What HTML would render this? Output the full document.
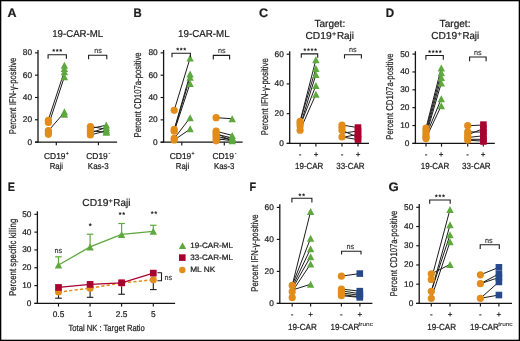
<!DOCTYPE html>
<html><head><meta charset="utf-8"><style>
html,body{margin:0;padding:0;background:#fff;}
body{width:520px;height:341px;overflow:hidden;}
svg{display:block;font-family:"Liberation Sans", sans-serif;text-rendering:geometricPrecision;will-change:transform;filter:blur(0.3px);}
text{stroke:#1c1c1c;stroke-width:0.22px;}
text.ns{stroke-width:0.1px;}
</style></head><body>
<svg width="520" height="341" viewBox="0 0 520 341">
<rect x="0" y="0" width="520" height="341" fill="#fff"/>
<text x="7.40" y="16.80" font-size="12.3" fill="#1c1c1c" font-weight="bold" textLength="9.00" lengthAdjust="spacingAndGlyphs">A</text>
<text x="77.70" y="37.10" font-size="10.0" fill="#1c1c1c" text-anchor="middle" textLength="51.00" lengthAdjust="spacingAndGlyphs">19-CAR-ML</text>
<text transform="translate(16.00,134.20) rotate(-90)" x="0" y="0" font-size="9.8" fill="#1c1c1c" textLength="76.60" lengthAdjust="spacingAndGlyphs">Percent IFN-γ-positive</text>
<line x1="38.00" y1="50.00" x2="38.00" y2="142.75" stroke="#151515" stroke-width="1.3"/>
<line x1="35.00" y1="142.10" x2="117.10" y2="142.10" stroke="#151515" stroke-width="1.3"/>
<line x1="35.00" y1="142.10" x2="38.00" y2="142.10" stroke="#151515" stroke-width="1.15"/>
<text x="32.05" y="144.60" font-size="8.3" fill="#1c1c1c" text-anchor="end">0</text>
<line x1="35.00" y1="119.79" x2="38.00" y2="119.79" stroke="#151515" stroke-width="1.15"/>
<text x="32.05" y="122.29" font-size="8.3" fill="#1c1c1c" text-anchor="end">20</text>
<line x1="35.00" y1="97.48" x2="38.00" y2="97.48" stroke="#151515" stroke-width="1.15"/>
<text x="32.05" y="99.98" font-size="8.3" fill="#1c1c1c" text-anchor="end">40</text>
<line x1="35.00" y1="75.16" x2="38.00" y2="75.16" stroke="#151515" stroke-width="1.15"/>
<text x="32.05" y="77.66" font-size="8.3" fill="#1c1c1c" text-anchor="end">60</text>
<line x1="35.00" y1="52.85" x2="38.00" y2="52.85" stroke="#151515" stroke-width="1.15"/>
<text x="32.05" y="55.35" font-size="8.3" fill="#1c1c1c" text-anchor="end">80</text>
<line x1="56.30" y1="142.10" x2="56.30" y2="145.30" stroke="#151515" stroke-width="1.15"/>
<line x1="98.40" y1="142.10" x2="98.40" y2="145.30" stroke="#151515" stroke-width="1.15"/>
<line x1="48.40" y1="119.65" x2="64.40" y2="71.26" stroke="#1c1c1c" stroke-width="1.0"/>
<line x1="48.40" y1="125.21" x2="64.40" y2="76.82" stroke="#1c1c1c" stroke-width="1.0"/>
<line x1="48.40" y1="130.78" x2="64.40" y2="112.42" stroke="#1c1c1c" stroke-width="1.0"/>
<circle cx="48.40" cy="120.32" r="3.6" fill="#e28c1a"/>
<circle cx="48.40" cy="122.43" r="3.6" fill="#e28c1a"/>
<circle cx="48.40" cy="130.55" r="3.6" fill="#e28c1a"/>
<circle cx="48.40" cy="132.44" r="3.6" fill="#e28c1a"/>
<circle cx="48.40" cy="134.34" r="3.6" fill="#e28c1a"/>
<path d="M64.40,61.64 L68.10,68.64 L60.70,68.64 Z" fill="#5ea83e"/>
<path d="M64.40,64.98 L68.10,71.98 L60.70,71.98 Z" fill="#5ea83e"/>
<path d="M64.40,68.31 L68.10,75.31 L60.70,75.31 Z" fill="#5ea83e"/>
<path d="M64.40,73.32 L68.10,80.32 L60.70,80.32 Z" fill="#5ea83e"/>
<path d="M64.40,108.36 L68.10,115.36 L60.70,115.36 Z" fill="#5ea83e"/>
<path d="M64.40,110.81 L68.10,117.81 L60.70,117.81 Z" fill="#5ea83e"/>
<line x1="90.40" y1="126.55" x2="106.30" y2="129.11" stroke="#1c1c1c" stroke-width="1.0"/>
<line x1="90.40" y1="128.55" x2="106.30" y2="125.21" stroke="#1c1c1c" stroke-width="1.0"/>
<line x1="90.40" y1="130.78" x2="106.30" y2="132.33" stroke="#1c1c1c" stroke-width="1.0"/>
<line x1="90.40" y1="133.00" x2="106.30" y2="127.44" stroke="#1c1c1c" stroke-width="1.0"/>
<line x1="90.40" y1="135.00" x2="106.30" y2="130.78" stroke="#1c1c1c" stroke-width="1.0"/>
<circle cx="90.40" cy="126.55" r="3.6" fill="#e28c1a"/>
<circle cx="90.40" cy="129.11" r="3.6" fill="#e28c1a"/>
<circle cx="90.40" cy="131.33" r="3.6" fill="#e28c1a"/>
<circle cx="90.40" cy="133.56" r="3.6" fill="#e28c1a"/>
<circle cx="90.40" cy="135.00" r="3.6" fill="#e28c1a"/>
<path d="M106.30,121.49 L110.00,128.49 L102.60,128.49 Z" fill="#5ea83e"/>
<path d="M106.30,123.94 L110.00,130.94 L102.60,130.94 Z" fill="#5ea83e"/>
<path d="M106.30,126.16 L110.00,133.16 L102.60,133.16 Z" fill="#5ea83e"/>
<path d="M106.30,127.83 L110.00,134.83 L102.60,134.83 Z" fill="#5ea83e"/>
<path d="M106.30,128.83 L110.00,135.83 L102.60,135.83 Z" fill="#5ea83e"/>
<path d="M48.10,58.80 L48.10,54.80 L66.40,54.80 L66.40,58.80" fill="none" stroke="#1c1c1c" stroke-width="1.1"/>
<polygon points="53.70,48.95 54.08,49.87 55.08,49.95 54.32,50.60 54.55,51.57 53.70,51.05 52.85,51.57 53.08,50.60 52.32,49.95 53.32,49.87" fill="#1c1c1c" stroke="#1c1c1c" stroke-width="0.3" stroke-linejoin="round"/>
<polygon points="57.20,48.95 57.58,49.87 58.58,49.95 57.82,50.60 58.05,51.57 57.20,51.05 56.35,51.57 56.58,50.60 55.82,49.95 56.82,49.87" fill="#1c1c1c" stroke="#1c1c1c" stroke-width="0.3" stroke-linejoin="round"/>
<polygon points="60.70,48.95 61.08,49.87 62.08,49.95 61.32,50.60 61.55,51.57 60.70,51.05 59.85,51.57 60.08,50.60 59.32,49.95 60.32,49.87" fill="#1c1c1c" stroke="#1c1c1c" stroke-width="0.3" stroke-linejoin="round"/>
<path d="M88.60,59.20 L88.60,55.20 L106.80,55.20 L106.80,59.20" fill="none" stroke="#1c1c1c" stroke-width="1.1"/>
<text x="98.00" y="52.80" font-size="7.6" fill="#1c1c1c" text-anchor="middle" textLength="7.60" lengthAdjust="spacingAndGlyphs" class="ns">ns</text>
<text x="54.80" y="159.10" font-size="8.6" fill="#1c1c1c" text-anchor="middle" textLength="21.50" lengthAdjust="spacingAndGlyphs">CD19</text>
<text x="65.80" y="155.40" font-size="5.4" fill="#555" textLength="3.00" lengthAdjust="spacingAndGlyphs">+</text>
<text x="56.40" y="168.80" font-size="8.6" fill="#1c1c1c" text-anchor="middle" textLength="13.30" lengthAdjust="spacingAndGlyphs">Raji</text>
<text x="97.00" y="159.10" font-size="8.6" fill="#1c1c1c" text-anchor="middle" textLength="21.50" lengthAdjust="spacingAndGlyphs">CD19</text>
<text x="108.50" y="155.40" font-size="6.0" fill="#777" textLength="1.80" lengthAdjust="spacingAndGlyphs" class="ns">-</text>
<text x="98.20" y="168.80" font-size="8.6" fill="#1c1c1c" text-anchor="middle" textLength="20.70" lengthAdjust="spacingAndGlyphs">Kas-3</text>
<text x="133.40" y="16.80" font-size="12.3" fill="#1c1c1c" font-weight="bold" textLength="8.20" lengthAdjust="spacingAndGlyphs">B</text>
<text x="203.85" y="37.10" font-size="10.0" fill="#1c1c1c" text-anchor="middle" textLength="51.50" lengthAdjust="spacingAndGlyphs">19-CAR-ML</text>
<text transform="translate(141.30,137.40) rotate(-90)" x="0" y="0" font-size="9.8" fill="#1c1c1c" textLength="85.00" lengthAdjust="spacingAndGlyphs">Percent CD107a-positive</text>
<line x1="163.60" y1="50.00" x2="163.60" y2="142.85" stroke="#151515" stroke-width="1.3"/>
<line x1="160.60" y1="142.20" x2="242.60" y2="142.20" stroke="#151515" stroke-width="1.3"/>
<line x1="160.60" y1="142.20" x2="163.60" y2="142.20" stroke="#151515" stroke-width="1.15"/>
<text x="157.65" y="144.70" font-size="8.3" fill="#1c1c1c" text-anchor="end">0</text>
<line x1="160.60" y1="119.86" x2="163.60" y2="119.86" stroke="#151515" stroke-width="1.15"/>
<text x="157.65" y="122.36" font-size="8.3" fill="#1c1c1c" text-anchor="end">20</text>
<line x1="160.60" y1="97.52" x2="163.60" y2="97.52" stroke="#151515" stroke-width="1.15"/>
<text x="157.65" y="100.02" font-size="8.3" fill="#1c1c1c" text-anchor="end">40</text>
<line x1="160.60" y1="75.19" x2="163.60" y2="75.19" stroke="#151515" stroke-width="1.15"/>
<text x="157.65" y="77.69" font-size="8.3" fill="#1c1c1c" text-anchor="end">60</text>
<line x1="160.60" y1="52.85" x2="163.60" y2="52.85" stroke="#151515" stroke-width="1.15"/>
<text x="157.65" y="55.35" font-size="8.3" fill="#1c1c1c" text-anchor="end">80</text>
<line x1="181.80" y1="142.20" x2="181.80" y2="145.40" stroke="#151515" stroke-width="1.15"/>
<line x1="224.30" y1="142.20" x2="224.30" y2="145.40" stroke="#151515" stroke-width="1.15"/>
<line x1="174.20" y1="110.31" x2="190.10" y2="58.02" stroke="#1c1c1c" stroke-width="1.0"/>
<line x1="174.20" y1="129.66" x2="190.10" y2="74.04" stroke="#1c1c1c" stroke-width="1.0"/>
<line x1="174.20" y1="130.22" x2="190.10" y2="77.38" stroke="#1c1c1c" stroke-width="1.0"/>
<line x1="174.20" y1="131.33" x2="190.10" y2="83.49" stroke="#1c1c1c" stroke-width="1.0"/>
<line x1="174.20" y1="138.56" x2="190.10" y2="117.76" stroke="#1c1c1c" stroke-width="1.0"/>
<line x1="174.20" y1="140.01" x2="190.10" y2="129.11" stroke="#1c1c1c" stroke-width="1.0"/>
<circle cx="174.20" cy="110.31" r="3.6" fill="#e28c1a"/>
<circle cx="174.20" cy="129.44" r="3.6" fill="#e28c1a"/>
<circle cx="174.20" cy="131.22" r="3.6" fill="#e28c1a"/>
<circle cx="174.20" cy="138.34" r="3.6" fill="#e28c1a"/>
<circle cx="174.20" cy="140.01" r="3.6" fill="#e28c1a"/>
<path d="M190.10,54.52 L193.80,61.52 L186.40,61.52 Z" fill="#5ea83e"/>
<path d="M190.10,70.54 L193.80,77.54 L186.40,77.54 Z" fill="#5ea83e"/>
<path d="M190.10,73.65 L193.80,80.65 L186.40,80.65 Z" fill="#5ea83e"/>
<path d="M190.10,79.99 L193.80,86.99 L186.40,86.99 Z" fill="#5ea83e"/>
<path d="M190.10,114.26 L193.80,121.26 L186.40,121.26 Z" fill="#5ea83e"/>
<path d="M190.10,125.27 L193.80,132.27 L186.40,132.27 Z" fill="#5ea83e"/>
<line x1="216.10" y1="117.65" x2="232.20" y2="118.76" stroke="#1c1c1c" stroke-width="1.0"/>
<line x1="216.10" y1="131.22" x2="232.20" y2="135.45" stroke="#1c1c1c" stroke-width="1.0"/>
<line x1="216.10" y1="134.11" x2="232.20" y2="138.01" stroke="#1c1c1c" stroke-width="1.0"/>
<line x1="216.10" y1="136.34" x2="232.20" y2="139.68" stroke="#1c1c1c" stroke-width="1.0"/>
<line x1="216.10" y1="138.56" x2="232.20" y2="140.79" stroke="#1c1c1c" stroke-width="1.0"/>
<line x1="216.10" y1="140.79" x2="232.20" y2="136.89" stroke="#1c1c1c" stroke-width="1.0"/>
<line x1="216.10" y1="133.00" x2="232.20" y2="141.34" stroke="#1c1c1c" stroke-width="1.0"/>
<circle cx="216.10" cy="117.65" r="3.6" fill="#e28c1a"/>
<circle cx="216.10" cy="131.22" r="3.6" fill="#e28c1a"/>
<circle cx="216.10" cy="133.56" r="3.6" fill="#e28c1a"/>
<circle cx="216.10" cy="135.78" r="3.6" fill="#e28c1a"/>
<circle cx="216.10" cy="138.01" r="3.6" fill="#e28c1a"/>
<circle cx="216.10" cy="140.79" r="3.6" fill="#e28c1a"/>
<path d="M232.20,115.26 L235.90,122.26 L228.50,122.26 Z" fill="#5ea83e"/>
<path d="M232.20,131.95 L235.90,138.95 L228.50,138.95 Z" fill="#5ea83e"/>
<path d="M232.20,133.95 L235.90,140.95 L228.50,140.95 Z" fill="#5ea83e"/>
<path d="M232.20,135.62 L235.90,142.62 L228.50,142.62 Z" fill="#5ea83e"/>
<path d="M232.20,137.29 L235.90,144.29 L228.50,144.29 Z" fill="#5ea83e"/>
<path d="M172.00,57.30 L172.00,53.20 L190.40,53.20 L190.40,57.30" fill="none" stroke="#1c1c1c" stroke-width="1.1"/>
<polygon points="177.70,47.65 178.08,48.57 179.08,48.65 178.32,49.30 178.55,50.27 177.70,49.75 176.85,50.27 177.08,49.30 176.32,48.65 177.32,48.57" fill="#1c1c1c" stroke="#1c1c1c" stroke-width="0.3" stroke-linejoin="round"/>
<polygon points="181.20,47.65 181.58,48.57 182.58,48.65 181.82,49.30 182.05,50.27 181.20,49.75 180.35,50.27 180.58,49.30 179.82,48.65 180.82,48.57" fill="#1c1c1c" stroke="#1c1c1c" stroke-width="0.3" stroke-linejoin="round"/>
<polygon points="184.70,47.65 185.08,48.57 186.08,48.65 185.32,49.30 185.55,50.27 184.70,49.75 183.85,50.27 184.08,49.30 183.32,48.65 184.32,48.57" fill="#1c1c1c" stroke="#1c1c1c" stroke-width="0.3" stroke-linejoin="round"/>
<path d="M213.30,59.60 L213.30,55.40 L229.60,55.40 L229.60,59.60" fill="none" stroke="#1c1c1c" stroke-width="1.1"/>
<text x="221.70" y="53.40" font-size="7.6" fill="#1c1c1c" text-anchor="middle" textLength="7.60" lengthAdjust="spacingAndGlyphs" class="ns">ns</text>
<text x="180.50" y="159.10" font-size="8.6" fill="#1c1c1c" text-anchor="middle" textLength="21.60" lengthAdjust="spacingAndGlyphs">CD19</text>
<text x="191.50" y="155.40" font-size="5.4" fill="#555" textLength="3.00" lengthAdjust="spacingAndGlyphs">+</text>
<text x="182.50" y="168.80" font-size="8.6" fill="#1c1c1c" text-anchor="middle" textLength="13.30" lengthAdjust="spacingAndGlyphs">Raji</text>
<text x="223.20" y="159.10" font-size="8.6" fill="#1c1c1c" text-anchor="middle" textLength="21.60" lengthAdjust="spacingAndGlyphs">CD19</text>
<text x="234.70" y="155.40" font-size="6.0" fill="#777" textLength="1.80" lengthAdjust="spacingAndGlyphs" class="ns">-</text>
<text x="224.20" y="168.80" font-size="8.6" fill="#1c1c1c" text-anchor="middle" textLength="20.50" lengthAdjust="spacingAndGlyphs">Kas-3</text>
<text x="259.10" y="16.80" font-size="12.3" fill="#1c1c1c" font-weight="bold" textLength="9.20" lengthAdjust="spacingAndGlyphs">C</text>
<text x="329.80" y="26.60" font-size="10.2" fill="#1c1c1c" text-anchor="middle" textLength="30.80" lengthAdjust="spacingAndGlyphs">Target:</text>
<text x="305.40" y="38.60" font-size="10.1" fill="#1c1c1c" textLength="26.20" lengthAdjust="spacingAndGlyphs">CD19</text>
<text x="332.00" y="35.50" font-size="6.5" fill="#444" textLength="4.30" lengthAdjust="spacingAndGlyphs">+</text>
<text x="336.90" y="38.60" font-size="10.1" fill="#1c1c1c" textLength="17.10" lengthAdjust="spacingAndGlyphs">Raji</text>
<text transform="translate(268.00,135.20) rotate(-90)" x="0" y="0" font-size="9.8" fill="#1c1c1c" textLength="77.00" lengthAdjust="spacingAndGlyphs">Percent IFN-γ-positive</text>
<line x1="289.70" y1="51.20" x2="289.70" y2="144.05" stroke="#151515" stroke-width="1.3"/>
<line x1="286.70" y1="143.40" x2="369.00" y2="143.40" stroke="#151515" stroke-width="1.3"/>
<line x1="286.70" y1="143.40" x2="289.70" y2="143.40" stroke="#151515" stroke-width="1.15"/>
<text x="283.75" y="145.90" font-size="8.3" fill="#1c1c1c" text-anchor="end">0</text>
<line x1="286.70" y1="113.66" x2="289.70" y2="113.66" stroke="#151515" stroke-width="1.15"/>
<text x="283.75" y="116.16" font-size="8.3" fill="#1c1c1c" text-anchor="end">20</text>
<line x1="286.70" y1="83.92" x2="289.70" y2="83.92" stroke="#151515" stroke-width="1.15"/>
<text x="283.75" y="86.42" font-size="8.3" fill="#1c1c1c" text-anchor="end">40</text>
<line x1="286.70" y1="54.18" x2="289.70" y2="54.18" stroke="#151515" stroke-width="1.15"/>
<text x="283.75" y="56.68" font-size="8.3" fill="#1c1c1c" text-anchor="end">60</text>
<line x1="300.10" y1="143.40" x2="300.10" y2="146.60" stroke="#151515" stroke-width="1.15"/>
<line x1="315.90" y1="143.40" x2="315.90" y2="146.60" stroke="#151515" stroke-width="1.15"/>
<line x1="342.00" y1="143.40" x2="342.00" y2="146.60" stroke="#151515" stroke-width="1.15"/>
<line x1="358.00" y1="143.40" x2="358.00" y2="146.60" stroke="#151515" stroke-width="1.15"/>
<line x1="300.10" y1="121.34" x2="315.90" y2="59.63" stroke="#1c1c1c" stroke-width="1.0"/>
<line x1="300.10" y1="121.34" x2="315.90" y2="68.55" stroke="#1c1c1c" stroke-width="1.0"/>
<line x1="300.10" y1="125.95" x2="315.90" y2="74.50" stroke="#1c1c1c" stroke-width="1.0"/>
<line x1="300.10" y1="125.95" x2="315.90" y2="85.50" stroke="#1c1c1c" stroke-width="1.0"/>
<line x1="300.10" y1="130.26" x2="315.90" y2="94.28" stroke="#1c1c1c" stroke-width="1.0"/>
<circle cx="300.10" cy="121.34" r="3.6" fill="#e28c1a"/>
<circle cx="300.10" cy="123.57" r="3.6" fill="#e28c1a"/>
<circle cx="300.10" cy="125.95" r="3.6" fill="#e28c1a"/>
<circle cx="300.10" cy="130.26" r="3.6" fill="#e28c1a"/>
<path d="M315.90,56.13 L319.60,63.13 L312.20,63.13 Z" fill="#5ea83e"/>
<path d="M315.90,65.05 L319.60,72.05 L312.20,72.05 Z" fill="#5ea83e"/>
<path d="M315.90,71.00 L319.60,78.00 L312.20,78.00 Z" fill="#5ea83e"/>
<path d="M315.90,82.00 L319.60,89.00 L312.20,89.00 Z" fill="#5ea83e"/>
<path d="M315.90,90.78 L319.60,97.78 L312.20,97.78 Z" fill="#5ea83e"/>
<line x1="342.00" y1="125.06" x2="358.00" y2="127.58" stroke="#1c1c1c" stroke-width="1.0"/>
<line x1="342.00" y1="130.26" x2="358.00" y2="137.55" stroke="#1c1c1c" stroke-width="1.0"/>
<line x1="342.00" y1="133.23" x2="358.00" y2="131.00" stroke="#1c1c1c" stroke-width="1.0"/>
<line x1="342.00" y1="136.95" x2="358.00" y2="139.63" stroke="#1c1c1c" stroke-width="1.0"/>
<line x1="342.00" y1="137.55" x2="358.00" y2="134.28" stroke="#1c1c1c" stroke-width="1.0"/>
<circle cx="342.00" cy="125.06" r="3.6" fill="#e28c1a"/>
<circle cx="342.00" cy="127.29" r="3.6" fill="#e28c1a"/>
<circle cx="342.00" cy="130.26" r="3.6" fill="#e28c1a"/>
<circle cx="342.00" cy="136.95" r="3.6" fill="#e28c1a"/>
<rect x="354.70" y="124.28" width="6.6" height="6.6" fill="#a8002f"/>
<rect x="354.70" y="127.70" width="6.6" height="6.6" fill="#a8002f"/>
<rect x="354.70" y="130.98" width="6.6" height="6.6" fill="#a8002f"/>
<rect x="354.70" y="134.25" width="6.6" height="6.6" fill="#a8002f"/>
<rect x="354.70" y="136.33" width="6.6" height="6.6" fill="#a8002f"/>
<path d="M301.30,57.80 L301.30,53.90 L317.70,53.90 L317.70,57.80" fill="none" stroke="#1c1c1c" stroke-width="1.1"/>
<polygon points="304.90,48.25 305.28,49.17 306.28,49.25 305.52,49.90 305.75,50.87 304.90,50.35 304.05,50.87 304.28,49.90 303.52,49.25 304.52,49.17" fill="#1c1c1c" stroke="#1c1c1c" stroke-width="0.3" stroke-linejoin="round"/>
<polygon points="308.45,48.25 308.83,49.17 309.83,49.25 309.07,49.90 309.30,50.87 308.45,50.35 307.60,50.87 307.83,49.90 307.07,49.25 308.07,49.17" fill="#1c1c1c" stroke="#1c1c1c" stroke-width="0.3" stroke-linejoin="round"/>
<polygon points="312.00,48.25 312.38,49.17 313.38,49.25 312.62,49.90 312.85,50.87 312.00,50.35 311.15,50.87 311.38,49.90 310.62,49.25 311.62,49.17" fill="#1c1c1c" stroke="#1c1c1c" stroke-width="0.3" stroke-linejoin="round"/>
<polygon points="315.55,48.25 315.93,49.17 316.93,49.25 316.17,49.90 316.40,50.87 315.55,50.35 314.70,50.87 314.93,49.90 314.17,49.25 315.17,49.17" fill="#1c1c1c" stroke="#1c1c1c" stroke-width="0.3" stroke-linejoin="round"/>
<path d="M344.50,58.60 L344.50,54.70 L361.40,54.70 L361.40,58.60" fill="none" stroke="#1c1c1c" stroke-width="1.1"/>
<text x="352.80" y="52.30" font-size="7.6" fill="#1c1c1c" text-anchor="middle" textLength="7.60" lengthAdjust="spacingAndGlyphs" class="ns">ns</text>
<text x="300.10" y="157.20" font-size="8.0" fill="#1c1c1c" text-anchor="middle">-</text>
<text x="316.10" y="157.20" font-size="8.0" fill="#1c1c1c" text-anchor="middle">+</text>
<text x="342.00" y="157.20" font-size="8.0" fill="#1c1c1c" text-anchor="middle">-</text>
<text x="358.10" y="157.20" font-size="8.0" fill="#1c1c1c" text-anchor="middle">+</text>
<text x="309.20" y="169.30" font-size="8.8" fill="#1c1c1c" text-anchor="middle" textLength="28.30" lengthAdjust="spacingAndGlyphs">19-CAR</text>
<text x="350.40" y="169.30" font-size="8.8" fill="#1c1c1c" text-anchor="middle" textLength="28.40" lengthAdjust="spacingAndGlyphs">33-CAR</text>
<text x="385.70" y="16.80" font-size="12.3" fill="#1c1c1c" font-weight="bold" textLength="8.40" lengthAdjust="spacingAndGlyphs">D</text>
<text x="455.05" y="26.60" font-size="10.2" fill="#1c1c1c" text-anchor="middle" textLength="30.90" lengthAdjust="spacingAndGlyphs">Target:</text>
<text x="431.20" y="38.60" font-size="10.1" fill="#1c1c1c" textLength="26.00" lengthAdjust="spacingAndGlyphs">CD19</text>
<text x="457.60" y="35.50" font-size="6.5" fill="#444" textLength="4.30" lengthAdjust="spacingAndGlyphs">+</text>
<text x="462.40" y="38.60" font-size="10.1" fill="#1c1c1c" textLength="16.70" lengthAdjust="spacingAndGlyphs">Raji</text>
<text transform="translate(393.00,139.70) rotate(-90)" x="0" y="0" font-size="9.8" fill="#1c1c1c" textLength="86.40" lengthAdjust="spacingAndGlyphs">Percent CD107a-positive</text>
<line x1="415.40" y1="51.20" x2="415.40" y2="144.05" stroke="#151515" stroke-width="1.3"/>
<line x1="412.40" y1="143.40" x2="494.80" y2="143.40" stroke="#151515" stroke-width="1.3"/>
<line x1="412.40" y1="143.40" x2="415.40" y2="143.40" stroke="#151515" stroke-width="1.15"/>
<text x="409.45" y="145.90" font-size="8.3" fill="#1c1c1c" text-anchor="end">0</text>
<line x1="412.40" y1="125.54" x2="415.40" y2="125.54" stroke="#151515" stroke-width="1.15"/>
<text x="409.45" y="128.04" font-size="8.3" fill="#1c1c1c" text-anchor="end">10</text>
<line x1="412.40" y1="107.68" x2="415.40" y2="107.68" stroke="#151515" stroke-width="1.15"/>
<text x="409.45" y="110.18" font-size="8.3" fill="#1c1c1c" text-anchor="end">20</text>
<line x1="412.40" y1="89.82" x2="415.40" y2="89.82" stroke="#151515" stroke-width="1.15"/>
<text x="409.45" y="92.32" font-size="8.3" fill="#1c1c1c" text-anchor="end">30</text>
<line x1="412.40" y1="71.96" x2="415.40" y2="71.96" stroke="#151515" stroke-width="1.15"/>
<text x="409.45" y="74.46" font-size="8.3" fill="#1c1c1c" text-anchor="end">40</text>
<line x1="412.40" y1="54.10" x2="415.40" y2="54.10" stroke="#151515" stroke-width="1.15"/>
<text x="409.45" y="56.60" font-size="8.3" fill="#1c1c1c" text-anchor="end">50</text>
<line x1="426.00" y1="143.40" x2="426.00" y2="146.60" stroke="#151515" stroke-width="1.15"/>
<line x1="441.50" y1="143.40" x2="441.50" y2="146.60" stroke="#151515" stroke-width="1.15"/>
<line x1="467.70" y1="143.40" x2="467.70" y2="146.60" stroke="#151515" stroke-width="1.15"/>
<line x1="483.30" y1="143.40" x2="483.30" y2="146.60" stroke="#151515" stroke-width="1.15"/>
<line x1="426.00" y1="128.04" x2="441.30" y2="67.90" stroke="#1c1c1c" stroke-width="1.0"/>
<line x1="426.00" y1="130.37" x2="441.30" y2="72.73" stroke="#1c1c1c" stroke-width="1.0"/>
<line x1="426.00" y1="133.06" x2="441.30" y2="77.56" stroke="#1c1c1c" stroke-width="1.0"/>
<line x1="426.00" y1="135.38" x2="441.30" y2="82.94" stroke="#1c1c1c" stroke-width="1.0"/>
<line x1="426.00" y1="135.74" x2="441.30" y2="98.69" stroke="#1c1c1c" stroke-width="1.0"/>
<line x1="426.00" y1="138.25" x2="441.30" y2="105.67" stroke="#1c1c1c" stroke-width="1.0"/>
<circle cx="426.00" cy="128.04" r="3.6" fill="#e28c1a"/>
<circle cx="426.00" cy="130.37" r="3.6" fill="#e28c1a"/>
<circle cx="426.00" cy="133.06" r="3.6" fill="#e28c1a"/>
<circle cx="426.00" cy="135.38" r="3.6" fill="#e28c1a"/>
<circle cx="426.00" cy="137.53" r="3.6" fill="#e28c1a"/>
<circle cx="426.00" cy="138.60" r="3.6" fill="#e28c1a"/>
<path d="M441.30,64.40 L445.00,71.40 L437.60,71.40 Z" fill="#5ea83e"/>
<path d="M441.30,69.23 L445.00,76.23 L437.60,76.23 Z" fill="#5ea83e"/>
<path d="M441.30,74.06 L445.00,81.06 L437.60,81.06 Z" fill="#5ea83e"/>
<path d="M441.30,79.44 L445.00,86.44 L437.60,86.44 Z" fill="#5ea83e"/>
<path d="M441.30,95.19 L445.00,102.19 L437.60,102.19 Z" fill="#5ea83e"/>
<path d="M441.30,102.17 L445.00,109.17 L437.60,109.17 Z" fill="#5ea83e"/>
<line x1="467.70" y1="125.72" x2="483.40" y2="125.00" stroke="#1c1c1c" stroke-width="1.0"/>
<line x1="467.70" y1="131.80" x2="483.40" y2="132.16" stroke="#1c1c1c" stroke-width="1.0"/>
<line x1="467.70" y1="134.84" x2="483.40" y2="128.58" stroke="#1c1c1c" stroke-width="1.0"/>
<line x1="467.70" y1="137.53" x2="483.40" y2="135.74" stroke="#1c1c1c" stroke-width="1.0"/>
<line x1="467.70" y1="139.32" x2="483.40" y2="139.32" stroke="#1c1c1c" stroke-width="1.0"/>
<line x1="467.70" y1="140.22" x2="483.40" y2="141.11" stroke="#1c1c1c" stroke-width="1.0"/>
<circle cx="467.70" cy="125.72" r="3.6" fill="#e28c1a"/>
<circle cx="467.70" cy="131.80" r="3.6" fill="#e28c1a"/>
<circle cx="467.70" cy="134.84" r="3.6" fill="#e28c1a"/>
<circle cx="467.70" cy="137.53" r="3.6" fill="#e28c1a"/>
<circle cx="467.70" cy="140.22" r="3.6" fill="#e28c1a"/>
<rect x="480.10" y="121.34" width="6.6" height="6.6" fill="#a8002f"/>
<rect x="480.10" y="125.28" width="6.6" height="6.6" fill="#a8002f"/>
<rect x="480.10" y="128.86" width="6.6" height="6.6" fill="#a8002f"/>
<rect x="480.10" y="132.44" width="6.6" height="6.6" fill="#a8002f"/>
<rect x="480.10" y="136.02" width="6.6" height="6.6" fill="#a8002f"/>
<rect x="480.10" y="138.17" width="6.6" height="6.6" fill="#a8002f"/>
<path d="M425.90,59.70 L425.90,55.50 L443.30,55.50 L443.30,59.70" fill="none" stroke="#1c1c1c" stroke-width="1.1"/>
<polygon points="429.60,50.15 429.98,51.07 430.98,51.15 430.22,51.80 430.45,52.77 429.60,52.25 428.75,52.77 428.98,51.80 428.22,51.15 429.22,51.07" fill="#1c1c1c" stroke="#1c1c1c" stroke-width="0.3" stroke-linejoin="round"/>
<polygon points="433.15,50.15 433.53,51.07 434.53,51.15 433.77,51.80 434.00,52.77 433.15,52.25 432.30,52.77 432.53,51.80 431.77,51.15 432.77,51.07" fill="#1c1c1c" stroke="#1c1c1c" stroke-width="0.3" stroke-linejoin="round"/>
<polygon points="436.70,50.15 437.08,51.07 438.08,51.15 437.32,51.80 437.55,52.77 436.70,52.25 435.85,52.77 436.08,51.80 435.32,51.15 436.32,51.07" fill="#1c1c1c" stroke="#1c1c1c" stroke-width="0.3" stroke-linejoin="round"/>
<polygon points="440.25,50.15 440.63,51.07 441.63,51.15 440.87,51.80 441.10,52.77 440.25,52.25 439.40,52.77 439.63,51.80 438.87,51.15 439.87,51.07" fill="#1c1c1c" stroke="#1c1c1c" stroke-width="0.3" stroke-linejoin="round"/>
<path d="M469.60,61.20 L469.60,57.00 L486.10,57.00 L486.10,61.20" fill="none" stroke="#1c1c1c" stroke-width="1.1"/>
<text x="477.90" y="54.80" font-size="7.6" fill="#1c1c1c" text-anchor="middle" textLength="7.60" lengthAdjust="spacingAndGlyphs" class="ns">ns</text>
<text x="426.00" y="157.20" font-size="8.0" fill="#1c1c1c" text-anchor="middle">-</text>
<text x="441.20" y="157.20" font-size="8.0" fill="#1c1c1c" text-anchor="middle">+</text>
<text x="467.70" y="157.20" font-size="8.0" fill="#1c1c1c" text-anchor="middle">-</text>
<text x="483.20" y="157.20" font-size="8.0" fill="#1c1c1c" text-anchor="middle">+</text>
<text x="435.00" y="169.30" font-size="8.8" fill="#1c1c1c" text-anchor="middle" textLength="28.60" lengthAdjust="spacingAndGlyphs">19-CAR</text>
<text x="476.35" y="169.30" font-size="8.8" fill="#1c1c1c" text-anchor="middle" textLength="28.70" lengthAdjust="spacingAndGlyphs">33-CAR</text>
<text x="7.80" y="190.90" font-size="12.3" fill="#1c1c1c" font-weight="bold" textLength="7.20" lengthAdjust="spacingAndGlyphs">E</text>
<text x="82.30" y="205.60" font-size="10.1" fill="#1c1c1c" textLength="26.20" lengthAdjust="spacingAndGlyphs">CD19</text>
<text x="108.40" y="202.50" font-size="6.5" fill="#444" textLength="4.30" lengthAdjust="spacingAndGlyphs">+</text>
<text x="113.30" y="205.60" font-size="10.1" fill="#1c1c1c" textLength="17.10" lengthAdjust="spacingAndGlyphs">Raji</text>
<text transform="translate(15.60,296.00) rotate(-90)" x="0" y="0" font-size="9.8" fill="#1c1c1c" textLength="77.30" lengthAdjust="spacingAndGlyphs">Percent specific killing</text>
<line x1="37.40" y1="211.30" x2="37.40" y2="304.05" stroke="#151515" stroke-width="1.3"/>
<line x1="34.40" y1="303.40" x2="175.10" y2="303.40" stroke="#151515" stroke-width="1.3"/>
<line x1="34.40" y1="303.40" x2="37.40" y2="303.40" stroke="#151515" stroke-width="1.15"/>
<text x="31.45" y="305.90" font-size="8.3" fill="#1c1c1c" text-anchor="end">0</text>
<line x1="34.40" y1="285.58" x2="37.40" y2="285.58" stroke="#151515" stroke-width="1.15"/>
<text x="31.45" y="288.08" font-size="8.3" fill="#1c1c1c" text-anchor="end">10</text>
<line x1="34.40" y1="267.76" x2="37.40" y2="267.76" stroke="#151515" stroke-width="1.15"/>
<text x="31.45" y="270.26" font-size="8.3" fill="#1c1c1c" text-anchor="end">20</text>
<line x1="34.40" y1="249.94" x2="37.40" y2="249.94" stroke="#151515" stroke-width="1.15"/>
<text x="31.45" y="252.44" font-size="8.3" fill="#1c1c1c" text-anchor="end">30</text>
<line x1="34.40" y1="232.12" x2="37.40" y2="232.12" stroke="#151515" stroke-width="1.15"/>
<text x="31.45" y="234.62" font-size="8.3" fill="#1c1c1c" text-anchor="end">40</text>
<line x1="34.40" y1="214.30" x2="37.40" y2="214.30" stroke="#151515" stroke-width="1.15"/>
<text x="31.45" y="216.80" font-size="8.3" fill="#1c1c1c" text-anchor="end">50</text>
<line x1="58.50" y1="303.40" x2="58.50" y2="306.60" stroke="#151515" stroke-width="1.15"/>
<line x1="90.10" y1="303.40" x2="90.10" y2="306.60" stroke="#151515" stroke-width="1.15"/>
<line x1="121.60" y1="303.40" x2="121.60" y2="306.60" stroke="#151515" stroke-width="1.15"/>
<line x1="153.30" y1="303.40" x2="153.30" y2="306.60" stroke="#151515" stroke-width="1.15"/>
<text x="58.50" y="317.30" font-size="8.3" fill="#1c1c1c" text-anchor="middle">0.5</text>
<text x="90.10" y="317.30" font-size="8.3" fill="#1c1c1c" text-anchor="middle">1</text>
<text x="121.60" y="317.30" font-size="8.3" fill="#1c1c1c" text-anchor="middle">2.5</text>
<text x="153.30" y="317.30" font-size="8.3" fill="#1c1c1c" text-anchor="middle">5</text>
<text x="106.60" y="330.80" font-size="8.9" fill="#1c1c1c" text-anchor="middle" textLength="76.20" lengthAdjust="spacingAndGlyphs">Total NK : Target Ratio</text>
<line x1="58.50" y1="292.11" x2="58.50" y2="298.20" stroke="#1c1c1c" stroke-width="1.1"/>
<line x1="55.20" y1="298.20" x2="61.80" y2="298.20" stroke="#1c1c1c" stroke-width="1.1"/>
<line x1="90.10" y1="288.17" x2="90.10" y2="297.31" stroke="#1c1c1c" stroke-width="1.1"/>
<line x1="86.80" y1="297.31" x2="93.40" y2="297.31" stroke="#1c1c1c" stroke-width="1.1"/>
<line x1="121.60" y1="282.97" x2="121.60" y2="294.26" stroke="#1c1c1c" stroke-width="1.1"/>
<line x1="118.30" y1="294.26" x2="124.90" y2="294.26" stroke="#1c1c1c" stroke-width="1.1"/>
<line x1="153.30" y1="279.75" x2="153.30" y2="289.60" stroke="#1c1c1c" stroke-width="1.1"/>
<line x1="150.00" y1="289.60" x2="156.60" y2="289.60" stroke="#1c1c1c" stroke-width="1.1"/>
<polyline points="58.50,292.11 90.10,288.17 121.60,282.97 153.30,279.75" fill="none" stroke="#e28c1a" stroke-width="1.5" stroke-dasharray="3.2,2.2"/>
<circle cx="58.50" cy="292.11" r="3.5" fill="#e28c1a"/>
<circle cx="90.10" cy="288.17" r="3.5" fill="#e28c1a"/>
<circle cx="121.60" cy="282.97" r="3.5" fill="#e28c1a"/>
<circle cx="153.30" cy="279.75" r="3.5" fill="#e28c1a"/>
<polyline points="58.50,287.45 90.10,284.40 121.60,282.79 153.30,273.12" fill="none" stroke="#a8002f" stroke-width="1.3"/>
<rect x="55.15" y="284.10" width="6.7" height="6.7" fill="#a8002f"/>
<rect x="86.75" y="281.05" width="6.7" height="6.7" fill="#a8002f"/>
<rect x="118.25" y="279.44" width="6.7" height="6.7" fill="#a8002f"/>
<rect x="149.95" y="269.77" width="6.7" height="6.7" fill="#a8002f"/>
<line x1="58.50" y1="265.05" x2="58.50" y2="256.81" stroke="#5ea83e" stroke-width="1.2"/>
<line x1="55.20" y1="256.81" x2="61.80" y2="256.81" stroke="#5ea83e" stroke-width="1.2"/>
<line x1="90.10" y1="246.95" x2="90.10" y2="234.23" stroke="#5ea83e" stroke-width="1.2"/>
<line x1="86.80" y1="234.23" x2="93.40" y2="234.23" stroke="#5ea83e" stroke-width="1.2"/>
<line x1="121.60" y1="234.41" x2="121.60" y2="223.48" stroke="#5ea83e" stroke-width="1.2"/>
<line x1="118.30" y1="223.48" x2="124.90" y2="223.48" stroke="#5ea83e" stroke-width="1.2"/>
<line x1="153.30" y1="231.36" x2="153.30" y2="225.27" stroke="#5ea83e" stroke-width="1.2"/>
<line x1="150.00" y1="225.27" x2="156.60" y2="225.27" stroke="#5ea83e" stroke-width="1.2"/>
<polyline points="58.50,265.05 90.10,246.95 121.60,234.41 153.30,231.36" fill="none" stroke="#5ea83e" stroke-width="1.3"/>
<path d="M58.50,261.55 L62.20,268.55 L54.80,268.55 Z" fill="#5ea83e"/>
<path d="M90.10,243.45 L93.80,250.45 L86.40,250.45 Z" fill="#5ea83e"/>
<path d="M121.60,230.91 L125.30,237.91 L117.90,237.91 Z" fill="#5ea83e"/>
<path d="M153.30,227.86 L157.00,234.86 L149.60,234.86 Z" fill="#5ea83e"/>
<text x="58.30" y="252.90" font-size="7.6" fill="#1c1c1c" text-anchor="middle" textLength="7.60" lengthAdjust="spacingAndGlyphs" class="ns">ns</text>
<polygon points="90.20,223.30 90.64,224.19 91.63,224.34 90.91,225.03 91.08,226.01 90.20,225.55 89.32,226.01 89.49,225.03 88.77,224.34 89.76,224.19" fill="#1c1c1c" stroke="#1c1c1c" stroke-width="0.3" stroke-linejoin="round"/>
<polygon points="120.10,212.15 120.48,213.07 121.48,213.15 120.72,213.80 120.95,214.77 120.10,214.25 119.25,214.77 119.48,213.80 118.72,213.15 119.72,213.07" fill="#1c1c1c" stroke="#1c1c1c" stroke-width="0.3" stroke-linejoin="round"/>
<polygon points="123.70,212.15 124.08,213.07 125.08,213.15 124.32,213.80 124.55,214.77 123.70,214.25 122.85,214.77 123.08,213.80 122.32,213.15 123.32,213.07" fill="#1c1c1c" stroke="#1c1c1c" stroke-width="0.3" stroke-linejoin="round"/>
<polygon points="152.20,211.25 152.58,212.17 153.58,212.25 152.82,212.90 153.05,213.87 152.20,213.35 151.35,213.87 151.58,212.90 150.82,212.25 151.82,212.17" fill="#1c1c1c" stroke="#1c1c1c" stroke-width="0.3" stroke-linejoin="round"/>
<polygon points="155.80,211.25 156.18,212.17 157.18,212.25 156.42,212.90 156.65,213.87 155.80,213.35 154.95,213.87 155.18,212.90 154.42,212.25 155.42,212.17" fill="#1c1c1c" stroke="#1c1c1c" stroke-width="0.3" stroke-linejoin="round"/>
<path d="M157.4,272.7 L161.5,272.7 L161.5,280.8 L157.4,280.8" fill="none" stroke="#1c1c1c" stroke-width="1.1"/>
<text x="164.60" y="279.50" font-size="7.6" fill="#1c1c1c" textLength="7.60" lengthAdjust="spacingAndGlyphs" class="ns">ns</text>
<path d="M182.50,242.30 L186.20,248.90 L178.80,248.90 Z" fill="#5ea83e"/>
<rect x="179.00" y="254.30" width="6.6" height="6.6" fill="#a8002f"/>
<circle cx="182.30" cy="270.00" r="3.2" fill="#e28c1a"/>
<text x="190.20" y="248.20" font-size="7.8" fill="#1c1c1c" textLength="42.80" lengthAdjust="spacingAndGlyphs">19-CAR-ML</text>
<text x="190.20" y="260.10" font-size="7.8" fill="#1c1c1c" textLength="42.80" lengthAdjust="spacingAndGlyphs">33-CAR-ML</text>
<text x="190.20" y="272.20" font-size="7.8" fill="#1c1c1c" textLength="25.00" lengthAdjust="spacingAndGlyphs">ML NK</text>
<text x="249.40" y="190.70" font-size="12.3" fill="#1c1c1c" font-weight="bold" textLength="6.60" lengthAdjust="spacingAndGlyphs">F</text>
<text transform="translate(257.90,291.80) rotate(-90)" x="0" y="0" font-size="9.8" fill="#1c1c1c" textLength="77.30" lengthAdjust="spacingAndGlyphs">Percent IFN-γ-positive</text>
<line x1="279.80" y1="204.20" x2="279.80" y2="304.05" stroke="#151515" stroke-width="1.3"/>
<line x1="276.80" y1="303.40" x2="372.40" y2="303.40" stroke="#151515" stroke-width="1.3"/>
<line x1="276.80" y1="303.40" x2="279.80" y2="303.40" stroke="#151515" stroke-width="1.15"/>
<text x="273.85" y="305.90" font-size="8.3" fill="#1c1c1c" text-anchor="end">0</text>
<line x1="276.80" y1="271.40" x2="279.80" y2="271.40" stroke="#151515" stroke-width="1.15"/>
<text x="273.85" y="273.90" font-size="8.3" fill="#1c1c1c" text-anchor="end">20</text>
<line x1="276.80" y1="239.40" x2="279.80" y2="239.40" stroke="#151515" stroke-width="1.15"/>
<text x="273.85" y="241.90" font-size="8.3" fill="#1c1c1c" text-anchor="end">40</text>
<line x1="276.80" y1="207.40" x2="279.80" y2="207.40" stroke="#151515" stroke-width="1.15"/>
<text x="273.85" y="209.90" font-size="8.3" fill="#1c1c1c" text-anchor="end">60</text>
<line x1="292.20" y1="303.40" x2="292.20" y2="306.60" stroke="#151515" stroke-width="1.15"/>
<line x1="310.60" y1="303.40" x2="310.60" y2="306.60" stroke="#151515" stroke-width="1.15"/>
<line x1="341.40" y1="303.40" x2="341.40" y2="306.60" stroke="#151515" stroke-width="1.15"/>
<line x1="359.90" y1="303.40" x2="359.90" y2="306.60" stroke="#151515" stroke-width="1.15"/>
<line x1="292.20" y1="285.40" x2="310.60" y2="211.42" stroke="#1c1c1c" stroke-width="1.0"/>
<line x1="292.20" y1="285.40" x2="310.60" y2="238.26" stroke="#1c1c1c" stroke-width="1.0"/>
<line x1="292.20" y1="287.32" x2="310.60" y2="248.65" stroke="#1c1c1c" stroke-width="1.0"/>
<line x1="292.20" y1="288.92" x2="310.60" y2="256.64" stroke="#1c1c1c" stroke-width="1.0"/>
<line x1="292.20" y1="291.63" x2="310.60" y2="263.99" stroke="#1c1c1c" stroke-width="1.0"/>
<line x1="292.20" y1="290.04" x2="310.60" y2="284.28" stroke="#1c1c1c" stroke-width="1.0"/>
<circle cx="292.20" cy="285.40" r="3.6" fill="#e28c1a"/>
<circle cx="292.20" cy="291.63" r="3.6" fill="#e28c1a"/>
<circle cx="292.20" cy="297.55" r="3.6" fill="#e28c1a"/>
<path d="M310.60,207.92 L314.30,214.92 L306.90,214.92 Z" fill="#5ea83e"/>
<path d="M310.60,234.76 L314.30,241.76 L306.90,241.76 Z" fill="#5ea83e"/>
<path d="M310.60,245.15 L314.30,252.15 L306.90,252.15 Z" fill="#5ea83e"/>
<path d="M310.60,253.14 L314.30,260.14 L306.90,260.14 Z" fill="#5ea83e"/>
<path d="M310.60,260.49 L314.30,267.49 L306.90,267.49 Z" fill="#5ea83e"/>
<path d="M310.60,280.78 L314.30,287.78 L306.90,287.78 Z" fill="#5ea83e"/>
<line x1="341.40" y1="276.13" x2="359.80" y2="273.58" stroke="#1c1c1c" stroke-width="1.0"/>
<line x1="341.40" y1="289.08" x2="359.80" y2="291.16" stroke="#1c1c1c" stroke-width="1.0"/>
<line x1="341.40" y1="290.84" x2="359.80" y2="293.71" stroke="#1c1c1c" stroke-width="1.0"/>
<line x1="341.40" y1="292.91" x2="359.80" y2="295.31" stroke="#1c1c1c" stroke-width="1.0"/>
<line x1="341.40" y1="294.51" x2="359.80" y2="296.91" stroke="#1c1c1c" stroke-width="1.0"/>
<line x1="341.40" y1="295.63" x2="359.80" y2="297.39" stroke="#1c1c1c" stroke-width="1.0"/>
<circle cx="341.40" cy="276.13" r="3.6" fill="#e28c1a"/>
<circle cx="341.40" cy="289.08" r="3.6" fill="#e28c1a"/>
<circle cx="341.40" cy="291.31" r="3.6" fill="#e28c1a"/>
<circle cx="341.40" cy="293.71" r="3.6" fill="#e28c1a"/>
<circle cx="341.40" cy="295.63" r="3.6" fill="#e28c1a"/>
<rect x="356.50" y="270.28" width="6.6" height="6.6" fill="#274889"/>
<rect x="356.50" y="287.86" width="6.6" height="6.6" fill="#274889"/>
<rect x="356.50" y="290.41" width="6.6" height="6.6" fill="#274889"/>
<rect x="356.50" y="292.33" width="6.6" height="6.6" fill="#274889"/>
<rect x="356.50" y="294.09" width="6.6" height="6.6" fill="#274889"/>
<path d="M291.90,202.50 L291.90,198.20 L311.90,198.20 L311.90,202.50" fill="none" stroke="#1c1c1c" stroke-width="1.1"/>
<polygon points="299.90,193.45 300.28,194.37 301.28,194.45 300.52,195.10 300.75,196.07 299.90,195.55 299.05,196.07 299.28,195.10 298.52,194.45 299.52,194.37" fill="#1c1c1c" stroke="#1c1c1c" stroke-width="0.3" stroke-linejoin="round"/>
<polygon points="303.60,193.45 303.98,194.37 304.98,194.45 304.22,195.10 304.45,196.07 303.60,195.55 302.75,196.07 302.98,195.10 302.22,194.45 303.22,194.37" fill="#1c1c1c" stroke="#1c1c1c" stroke-width="0.3" stroke-linejoin="round"/>
<path d="M341.60,254.60 L341.60,251.20 L361.00,251.20 L361.00,254.60" fill="none" stroke="#1c1c1c" stroke-width="1.1"/>
<text x="350.30" y="248.90" font-size="7.6" fill="#1c1c1c" text-anchor="middle" textLength="7.60" lengthAdjust="spacingAndGlyphs" class="ns">ns</text>
<text x="292.20" y="316.90" font-size="8.0" fill="#1c1c1c" text-anchor="middle">-</text>
<text x="310.60" y="316.90" font-size="8.0" fill="#1c1c1c" text-anchor="middle">+</text>
<text x="341.40" y="316.90" font-size="8.0" fill="#1c1c1c" text-anchor="middle">-</text>
<text x="359.80" y="316.90" font-size="8.0" fill="#1c1c1c" text-anchor="middle">+</text>
<text x="302.45" y="329.60" font-size="8.8" fill="#1c1c1c" text-anchor="middle" textLength="28.80" lengthAdjust="spacingAndGlyphs">19-CAR</text>
<text x="330.50" y="329.60" font-size="8.8" fill="#1c1c1c" textLength="28.80" lengthAdjust="spacingAndGlyphs">19-CAR</text>
<text x="358.50" y="326.20" font-size="5.7" fill="#333" textLength="14.40" lengthAdjust="spacingAndGlyphs" class="ns">trunc</text>
<text x="388.50" y="191.00" font-size="12.3" fill="#1c1c1c" font-weight="bold" textLength="10.20" lengthAdjust="spacingAndGlyphs">G</text>
<text transform="translate(397.40,296.60) rotate(-90)" x="0" y="0" font-size="9.8" fill="#1c1c1c" textLength="86.00" lengthAdjust="spacingAndGlyphs">Percent CD107a-positive</text>
<line x1="419.20" y1="204.00" x2="419.20" y2="304.05" stroke="#151515" stroke-width="1.3"/>
<line x1="416.20" y1="303.40" x2="512.00" y2="303.40" stroke="#151515" stroke-width="1.3"/>
<line x1="416.20" y1="303.40" x2="419.20" y2="303.40" stroke="#151515" stroke-width="1.15"/>
<text x="413.25" y="305.90" font-size="8.3" fill="#1c1c1c" text-anchor="end">0</text>
<line x1="416.20" y1="284.18" x2="419.20" y2="284.18" stroke="#151515" stroke-width="1.15"/>
<text x="413.25" y="286.68" font-size="8.3" fill="#1c1c1c" text-anchor="end">10</text>
<line x1="416.20" y1="264.96" x2="419.20" y2="264.96" stroke="#151515" stroke-width="1.15"/>
<text x="413.25" y="267.46" font-size="8.3" fill="#1c1c1c" text-anchor="end">20</text>
<line x1="416.20" y1="245.74" x2="419.20" y2="245.74" stroke="#151515" stroke-width="1.15"/>
<text x="413.25" y="248.24" font-size="8.3" fill="#1c1c1c" text-anchor="end">30</text>
<line x1="416.20" y1="226.52" x2="419.20" y2="226.52" stroke="#151515" stroke-width="1.15"/>
<text x="413.25" y="229.02" font-size="8.3" fill="#1c1c1c" text-anchor="end">40</text>
<line x1="416.20" y1="207.30" x2="419.20" y2="207.30" stroke="#151515" stroke-width="1.15"/>
<text x="413.25" y="209.80" font-size="8.3" fill="#1c1c1c" text-anchor="end">50</text>
<line x1="431.30" y1="303.40" x2="431.30" y2="306.60" stroke="#151515" stroke-width="1.15"/>
<line x1="450.00" y1="303.40" x2="450.00" y2="306.60" stroke="#151515" stroke-width="1.15"/>
<line x1="480.40" y1="303.40" x2="480.40" y2="306.60" stroke="#151515" stroke-width="1.15"/>
<line x1="498.90" y1="303.40" x2="498.90" y2="306.60" stroke="#151515" stroke-width="1.15"/>
<line x1="431.30" y1="273.86" x2="450.00" y2="264.44" stroke="#1c1c1c" stroke-width="1.0"/>
<line x1="431.30" y1="279.44" x2="450.00" y2="209.41" stroke="#1c1c1c" stroke-width="1.0"/>
<line x1="431.30" y1="291.37" x2="450.00" y2="224.99" stroke="#1c1c1c" stroke-width="1.0"/>
<line x1="431.30" y1="291.37" x2="450.00" y2="234.81" stroke="#1c1c1c" stroke-width="1.0"/>
<line x1="431.30" y1="298.30" x2="450.00" y2="241.73" stroke="#1c1c1c" stroke-width="1.0"/>
<circle cx="431.30" cy="273.86" r="3.6" fill="#e28c1a"/>
<circle cx="431.30" cy="279.44" r="3.6" fill="#e28c1a"/>
<circle cx="431.30" cy="291.37" r="3.6" fill="#e28c1a"/>
<circle cx="431.30" cy="298.30" r="3.6" fill="#e28c1a"/>
<path d="M450.00,205.91 L453.70,212.91 L446.30,212.91 Z" fill="#5ea83e"/>
<path d="M450.00,221.30 L453.70,228.30 L446.30,228.30 Z" fill="#5ea83e"/>
<path d="M450.00,231.31 L453.70,238.31 L446.30,238.31 Z" fill="#5ea83e"/>
<path d="M450.00,238.23 L453.70,245.23 L446.30,245.23 Z" fill="#5ea83e"/>
<path d="M450.00,260.94 L453.70,267.94 L446.30,267.94 Z" fill="#5ea83e"/>
<line x1="480.40" y1="274.82" x2="498.90" y2="267.32" stroke="#1c1c1c" stroke-width="1.0"/>
<line x1="480.40" y1="283.68" x2="498.90" y2="273.86" stroke="#1c1c1c" stroke-width="1.0"/>
<line x1="480.40" y1="283.68" x2="498.90" y2="277.52" stroke="#1c1c1c" stroke-width="1.0"/>
<line x1="480.40" y1="298.30" x2="498.90" y2="281.94" stroke="#1c1c1c" stroke-width="1.0"/>
<line x1="480.40" y1="298.30" x2="498.90" y2="295.03" stroke="#1c1c1c" stroke-width="1.0"/>
<circle cx="480.40" cy="274.82" r="3.6" fill="#e28c1a"/>
<circle cx="480.40" cy="283.68" r="3.6" fill="#e28c1a"/>
<circle cx="480.40" cy="298.30" r="3.6" fill="#e28c1a"/>
<rect x="495.60" y="264.02" width="6.6" height="6.6" fill="#274889"/>
<rect x="495.60" y="270.56" width="6.6" height="6.6" fill="#274889"/>
<rect x="495.60" y="274.22" width="6.6" height="6.6" fill="#274889"/>
<rect x="495.60" y="278.64" width="6.6" height="6.6" fill="#274889"/>
<rect x="495.60" y="291.73" width="6.6" height="6.6" fill="#274889"/>
<path d="M429.70,203.80 L429.70,200.00 L450.20,200.00 L450.20,203.80" fill="none" stroke="#1c1c1c" stroke-width="1.1"/>
<polygon points="436.30,194.45 436.68,195.37 437.68,195.45 436.92,196.10 437.15,197.07 436.30,196.55 435.45,197.07 435.68,196.10 434.92,195.45 435.92,195.37" fill="#1c1c1c" stroke="#1c1c1c" stroke-width="0.3" stroke-linejoin="round"/>
<polygon points="439.90,194.45 440.28,195.37 441.28,195.45 440.52,196.10 440.75,197.07 439.90,196.55 439.05,197.07 439.28,196.10 438.52,195.45 439.52,195.37" fill="#1c1c1c" stroke="#1c1c1c" stroke-width="0.3" stroke-linejoin="round"/>
<polygon points="443.50,194.45 443.88,195.37 444.88,195.45 444.12,196.10 444.35,197.07 443.50,196.55 442.65,197.07 442.88,196.10 442.12,195.45 443.12,195.37" fill="#1c1c1c" stroke="#1c1c1c" stroke-width="0.3" stroke-linejoin="round"/>
<path d="M480.20,249.00 L480.20,244.70 L499.30,244.70 L499.30,249.00" fill="none" stroke="#1c1c1c" stroke-width="1.1"/>
<text x="488.80" y="243.20" font-size="7.6" fill="#1c1c1c" text-anchor="middle" textLength="7.60" lengthAdjust="spacingAndGlyphs" class="ns">ns</text>
<text x="431.30" y="316.90" font-size="8.0" fill="#1c1c1c" text-anchor="middle">-</text>
<text x="450.00" y="316.90" font-size="8.0" fill="#1c1c1c" text-anchor="middle">+</text>
<text x="480.40" y="316.90" font-size="8.0" fill="#1c1c1c" text-anchor="middle">-</text>
<text x="498.90" y="316.90" font-size="8.0" fill="#1c1c1c" text-anchor="middle">+</text>
<text x="441.70" y="329.60" font-size="8.8" fill="#1c1c1c" text-anchor="middle" textLength="28.80" lengthAdjust="spacingAndGlyphs">19-CAR</text>
<text x="470.00" y="329.60" font-size="8.8" fill="#1c1c1c" textLength="28.80" lengthAdjust="spacingAndGlyphs">19-CAR</text>
<text x="498.20" y="326.20" font-size="5.7" fill="#333" textLength="14.40" lengthAdjust="spacingAndGlyphs" class="ns">trunc</text>
<rect x="0" y="0" width="520" height="341" fill="none" stroke="#000" stroke-width="2.6"/>
</svg>
</body></html>
